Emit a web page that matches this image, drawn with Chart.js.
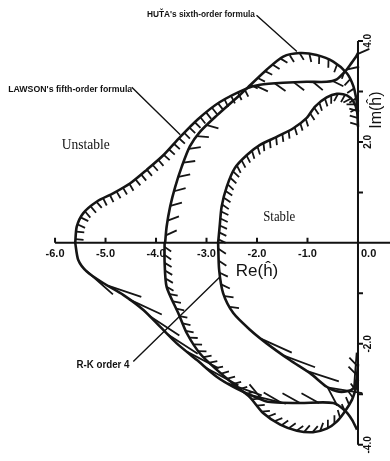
<!DOCTYPE html>
<html>
<head>
<meta charset="utf-8">
<script src="https://cdn.jsdelivr.net/npm/chart.js@4.4.0/dist/chart.umd.min.js"></script>
<style>
  html, body { margin: 0; padding: 0; background: #fff; }
  #wrap { width: 390px; height: 461px; }
</style>
</head>
<body>
<div id="wrap"><canvas id="stabChart"></canvas></div>
<script>
// boundary points (Re, Im)
const lawsonUpper = [
  [-5.60, 0], [-5.57, 0.32], [-5.44, 0.59], [-5.17, 0.82], [-4.85, 0.98], [-4.51, 1.18],
  [-4.18, 1.45], [-3.85, 1.74], [-3.52, 2.10], [-3.17, 2.45], [-2.75, 2.78], [-2.20, 3.06],
  [-1.94, 3.13], [-1.48, 3.17], [-1.02, 3.19], [-0.62, 3.19], [-0.42, 3.24], [-0.26, 3.39],
  [-0.13, 3.56], [-0.03, 3.70], [0, 3.76]
];
const lawsonLower = [
  [-5.60, 0], [-5.54, -0.34], [-5.37, -0.57], [-5.04, -0.80], [-4.65, -1.03], [-4.25, -1.33],
  [-3.92, -1.66], [-3.59, -1.99], [-3.19, -2.32], [-2.80, -2.65], [-2.47, -2.85], [-2.07, -3.04],
  [-1.81, -3.14], [-1.61, -3.16], [-1.15, -3.17], [-0.49, -3.17], [-0.26, -3.32], [-0.12, -3.50],
  [-0.02, -3.70]
];
const hutaUpper = [
  [-3.82, 0], [-3.79, 0.32], [-3.72, 0.72], [-3.62, 1.11], [-3.49, 1.51], [-3.33, 1.91],
  [-3.13, 2.20], [-2.80, 2.52], [-2.34, 2.93], [-2.20, 3.06], [-1.81, 3.43], [-1.48, 3.69],
  [-1.15, 3.76], [-0.82, 3.72], [-0.49, 3.59], [-0.22, 3.36], [-0.09, 3.10], [-0.03, 2.83], [0, 2.6]
];
const hutaLower = [
  [-3.83, 0], [-3.83, -0.38], [-3.79, -0.87], [-3.56, -1.39], [-3.39, -1.79], [-3.13, -2.19],
  [-2.80, -2.51], [-2.40, -2.85], [-2.14, -3.06], [-1.88, -3.37], [-1.54, -3.60], [-1.21, -3.72],
  [-0.89, -3.75], [-0.62, -3.68], [-0.42, -3.54], [-0.26, -3.34], [-0.12, -3.11], [-0.04, -2.88], [0, -2.72]
];
const rk4Upper = [
  [-2.77, 0], [-2.74, 0.32], [-2.70, 0.72], [-2.60, 1.11], [-2.44, 1.48], [-2.20, 1.74],
  [-1.94, 1.94], [-1.61, 2.10], [-1.28, 2.27], [-1.02, 2.47], [-0.85, 2.70], [-0.62, 2.88],
  [-0.42, 2.95], [-0.22, 2.92], [-0.09, 2.80], [-0.02, 2.62], [0, 2.3]
];
const rk4Lower = [
  [-2.77, 0], [-2.75, -0.53], [-2.67, -1.00], [-2.47, -1.39], [-2.14, -1.72], [-1.81, -1.99],
  [-1.35, -2.32], [-0.95, -2.58], [-0.62, -2.85], [-0.42, -2.94], [-0.22, -2.94], [-0.09, -2.88],
  [-0.03, -2.71], [0, -2.4]
];

const xTicks = [-6, -5, -4, -3, -2, -1, 0];
const xTickLabels = ["-6.0", "-5.0", "-4.0", "-3.0", "-2.0", "-1.0", "0.0"];
const yTicks = [-4, -3, -2, -1, 1, 2, 3, 4];
const yLabelValues = [4, 2, -2, -4];
const yLabels = ["4.0", "2.0", "-2.0", "-4.0"];

const xTitle = "Re(ĥ)";
const yTitle = "Im(ĥ)";

const notes = [
  { text: "Unstable", x: -5.39, y: 1.94, font: "15px 'Liberation Serif'", width: 48 },
  { text: "Stable", x: -1.56, y: 0.515, font: "14px 'Liberation Serif'", width: 32 },
  { text: "HUŤA's sixth-order formula", x: -3.11, y: 4.53, font: "bold 9px 'Liberation Sans'", width: 108 },
  { text: "LAWSON's fifth-order formula", x: -5.70, y: 3.03, font: "bold 9px 'Liberation Sans'", width: 124 },
  { text: "R-K order 4", x: -5.05, y: -2.42, font: "bold 10px 'Liberation Sans'", width: 53 }
];
const pointers = [
  [[-2.01, 4.51], [-1.21, 3.79]],
  [[-4.48, 3.08], [-3.52, 2.14]],
  [[-4.45, -2.35], [-2.73, -0.67]]
];

const toXY = arr => arr.map(([x, y]) => ({ x, y }));

function curve(label, pts, hatch) {
  return {
    label: label,
    data: toXY(pts),
    showLine: true,
    borderColor: "#151515",
    borderWidth: 2.6,
    pointRadius: 0,
    tension: 0.25,
    fill: false,
    hatch: hatch
  };
}

function drawHatches(ctx, pts, spec) {
  const seg = pts.slice(spec.from, spec.to + 1);
  const a = spec.angle * Math.PI / 180;
  let carry = spec.step * 0.5;
  for (let i = 0; i < seg.length - 1; i++) {
    const p = seg[i], q = seg[i + 1];
    const dx = q.x - p.x, dy = q.y - p.y;
    const d = Math.hypot(dx, dy);
    if (d === 0) continue;
    const tx = dx / d, ty = dy / d;
    const nx = -ty * spec.side, ny = tx * spec.side;
    const hx = Math.cos(a) * nx + Math.sin(a) * tx;
    const hy = Math.cos(a) * ny + Math.sin(a) * ty;
    let s = carry;
    while (s <= d) {
      const x0 = p.x + tx * s, y0 = p.y + ty * s;
      ctx.moveTo(x0, y0);
      ctx.lineTo(x0 + hx * spec.len, y0 + hy * spec.len);
      s += spec.step;
    }
    carry = s - d;
  }
}

const hatchPlugin = {
  id: "hatching",
  afterDatasetsDraw(chart) {
    const ctx = chart.ctx;
    ctx.save();
    ctx.strokeStyle = "#151515";
    ctx.lineWidth = 1.8;
    ctx.lineCap = "butt";
    chart.data.datasets.forEach((ds, i) => {
      if (!ds.hatch) return;
      const pts = chart.getDatasetMeta(i).data.map(p => ({ x: p.x, y: p.y }));
      ds.hatch.forEach(spec => {
        ctx.beginPath();
        drawHatches(ctx, pts, spec);
        ctx.stroke();
      });
    });
    ctx.restore();
  }
};

const axesPlugin = {
  id: "crossAxes",
  afterDatasetsDraw(chart) {
    const ctx = chart.ctx;
    const xs = chart.scales.x, ys = chart.scales.y;
    const x0 = xs.getPixelForValue(0), y0 = ys.getPixelForValue(0);
    ctx.save();
    ctx.strokeStyle = "#111";
    ctx.fillStyle = "#111";
    ctx.lineWidth = 2;
    ctx.beginPath();
    ctx.moveTo(xs.getPixelForValue(xTicks[0]), y0);
    ctx.lineTo(chart.chartArea.right, y0);
    xTicks.forEach(v => {
      const px = xs.getPixelForValue(v);
      ctx.moveTo(px, y0);
      ctx.lineTo(px, y0 - 5);
    });
    ctx.moveTo(x0, ys.getPixelForValue(yTicks[yTicks.length - 1]));
    ctx.lineTo(x0, ys.getPixelForValue(yTicks[0]));
    yTicks.forEach(v => {
      const py = ys.getPixelForValue(v);
      ctx.moveTo(x0, py);
      ctx.lineTo(x0 + 5, py);
    });
    ctx.stroke();

    ctx.font = "bold 11px 'Liberation Sans'";
    ctx.textBaseline = "middle";
    xTicks.forEach((v, k) => {
      const px = xs.getPixelForValue(v);
      ctx.textAlign = v === 0 ? "left" : "center";
      ctx.fillText(xTickLabels[k], v === 0 ? px + 3 : px, y0 + 11);
    });
    ctx.font = "bold 10px 'Liberation Sans'";
    ctx.textAlign = "center";
    yLabelValues.forEach((v, k) => {
      ctx.save();
      ctx.translate(x0 + 10, ys.getPixelForValue(v));
      ctx.rotate(-Math.PI / 2);
      ctx.fillText(yLabels[k], 0, 0);
      ctx.restore();
    });

    ctx.font = "17px 'Liberation Sans'";
    ctx.fillText(xTitle, xs.getPixelForValue(-2.0), ys.getPixelForValue(-0.57));
    ctx.save();
    ctx.translate(xs.getPixelForValue(0.376), ys.getPixelForValue(2.63));
    ctx.rotate(-Math.PI / 2);
    ctx.font = "16px 'Liberation Sans'";
    ctx.fillText(yTitle, 0, 0);
    ctx.restore();

    notes.forEach(n => {
      ctx.font = n.font;
      ctx.fillText(n.text, xs.getPixelForValue(n.x), ys.getPixelForValue(n.y), n.width);
    });
    ctx.lineWidth = 1.4;
    ctx.beginPath();
    pointers.forEach(([a, b]) => {
      ctx.moveTo(xs.getPixelForValue(a[0]), ys.getPixelForValue(a[1]));
      ctx.lineTo(xs.getPixelForValue(b[0]), ys.getPixelForValue(b[1]));
    });
    ctx.stroke();
    ctx.restore();
  }
};

new Chart(document.getElementById("stabChart"), {
  type: "scatter",
  data: {
    datasets: [
      curve("Lawson 5th order", lawsonUpper, [
        { from: 0, to: 11, step: 7.5, len: 8, angle: 0, side: 1 },
        { from: 11, to: 20, step: 19, len: 13, angle: 50, side: 1 }
      ]),
      curve("Lawson 5th order (lower)", lawsonLower, [
        { from: 1, to: 11, step: 26, len: 36, angle: 78, side: -1 },
        { from: 11, to: 16, step: 19, len: 20, angle: -61, side: -1 }
      ]),
      curve("Huta 6th order", hutaUpper, [
        { from: 0, to: 7, step: 15, len: 12, angle: 30, side: 1 },
        { from: 9, to: 18, step: 10, len: 8, angle: 20, side: 1 }
      ]),
      curve("Huta 6th order (lower)", hutaLower, [
        { from: 0, to: 17, step: 8, len: 8, angle: 35, side: -1 }
      ]),
      curve("R-K order 4", rk4Upper, [
        { from: 0, to: 16, step: 7, len: 8, angle: -20, side: 1 }
      ]),
      curve("R-K order 4 (lower)", rk4Lower, [
        { from: 0, to: 3, step: 12, len: 9, angle: 35, side: -1 },
        { from: 4, to: 12, step: 28, len: 34, angle: 75, side: -1 },
        { from: 12, to: 13, step: 9, len: 12, angle: 40, side: -1 }
      ])
    ]
  },
  options: {
    responsive: true,
    maintainAspectRatio: false,
    animation: false,
    layout: { padding: 0 },
    plugins: { legend: { display: false }, tooltip: { enabled: false } },
    scales: {
      x: { type: "linear", min: -7.09, max: 0.634, display: false },
      y: { type: "linear", min: -4.32, max: 4.81, display: false }
    }
  },
  plugins: [hatchPlugin, axesPlugin]
});
</script>
</body>
</html>
